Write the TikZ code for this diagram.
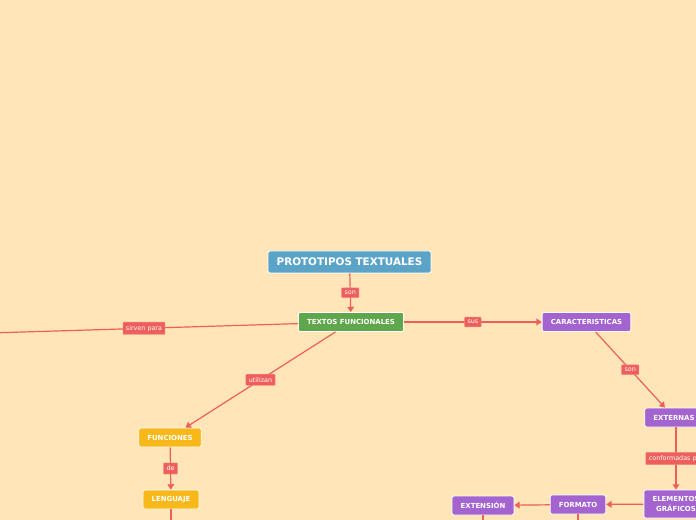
\documentclass[tikz,border=0pt]{standalone}
\usepackage{fontspec}
\setmainfont{DejaVu Sans}
\usetikzlibrary{arrows.meta, positioning}

\definecolor{paper}{HTML}{FFE5B7}
\definecolor{rootblue}{HTML}{5BA4C7}
\definecolor{leafgreen}{HTML}{5FA64C}
\definecolor{gold}{HTML}{F8B81A}
\definecolor{violet}{HTML}{A464CF}
\definecolor{linkred}{HTML}{EE5F5C}

\begin{document}
\begin{tikzpicture}[
    x=0.75pt, y=-0.75pt,
    topic/.style={rectangle, rounded corners=1.5pt, draw=white, line width=0.6pt, text=white,
        font=\bfseries\fontsize{5.2}{6.8}\selectfont, minimum height=14.25pt, inner xsep=6.5pt, inner ysep=2pt},
    root/.style={topic, fill=rootblue, font=\bfseries\fontsize{7.8}{9}\selectfont, minimum height=16.5pt},
    textbox/.style={topic, fill=leafgreen},
    goldbox/.style={topic, fill=gold},
    violetbox/.style={topic, fill=violet},
    link/.style={draw=linkred, line width=0.9pt, -{Triangle[length=4pt,width=5pt]}},
    lbl/.style={fill=linkred, draw=linkred!75!white, line width=0.3pt, text=white, rounded corners=0.5pt,
        font=\fontsize{4.8}{5}\selectfont, inner xsep=2.2pt, inner ysep=2.3pt},
]

% Background and frame of the visible part
\fill[paper] (0,0) rectangle (696,520);
\useasboundingbox (0,0) rectangle (696,520);
\clip (0,0) rectangle (696,520);

% Define topics (nodes)
\node[root] (prototipos) at (349.5,262) {PROTOTIPOS TEXTUALES};
\node[textbox] (textos) at (351,322) {TEXTOS FUNCIONALES};
\node[violetbox] (caracteristicas) at (586.5,322) {CARACTERISTICAS};
\node[violetbox] (externas) at (674,417.5) {EXTERNAS};
\node[violetbox, align=center, minimum height=21pt] (elementos) at (676,504) {ELEMENTOS\\GRÁFICOS};
\node[violetbox] (formato) at (578,504.5) {FORMATO};
\node[violetbox] (extension) at (483,505.5) {EXTENSIÓN};
\node[goldbox] (funciones) at (170,437.5) {FUNCIONES};
\node[goldbox] (lenguaje) at (171,499.5) {LENGUAJE};

% Free ends leaving the visible part
\coordinate (para) at (-10,333);
\coordinate (lengdown) at (171,545);
\coordinate (formdown) at (578,545);
\coordinate (extdown) at (483,545);

% Connectors
\draw[link] (prototipos) -- node[lbl] {son} (textos);
\draw[link] (textos) -- node[lbl] {sirven para} (para);
\draw[link] (textos) -- node[lbl] {sus} (caracteristicas);
\draw[link] (textos) -- node[lbl] {utilizan} (funciones);
\draw[link] (funciones) -- node[lbl] {de} (lenguaje);
\draw[link] (lenguaje) -- (lengdown);

\draw[link] (caracteristicas) -- node[lbl] {son} (externas);
\draw[link] (externas.south -| elementos.north) -- node[lbl] {conformadas por} (elementos.north);
\draw[link] (elementos) -- (formato);
\draw[link] (formato) -- (extension);
\draw[link] (formato) -- (formdown);
\draw[link] (extension) -- (extdown);

\end{tikzpicture}
\end{document}
